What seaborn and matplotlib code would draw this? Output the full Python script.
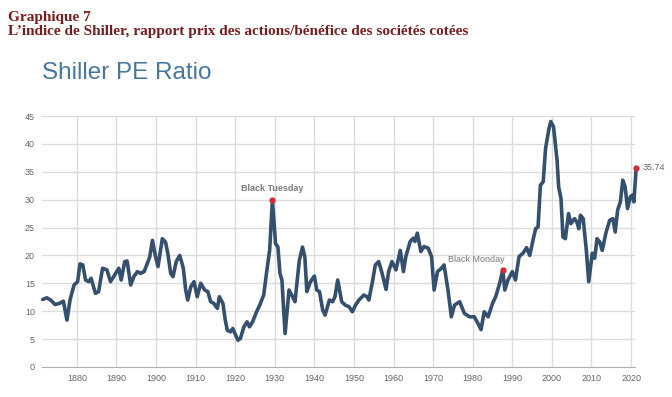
import pandas as pd
import matplotlib
matplotlib.use('Agg')
import matplotlib.pyplot as plt
import seaborn as sns

# values (year, Shiller PE)
years = [
    1871.4, 1872.4, 1873.4, 1874.5, 1875.6, 1876.6, 1877.5, 1878.3, 1879.3, 1880.2,
    1880.8, 1881.5, 1882.2, 1883.0, 1883.6, 1884.7, 1885.5, 1886.5, 1887.6, 1888.5,
    1889.3, 1890.6, 1891.2, 1892.1, 1892.7, 1893.6, 1894.4, 1895.3, 1896.1, 1897.0,
    1897.8, 1898.4, 1899.1, 1899.9, 1900.5, 1901.6, 1902.4, 1903.0, 1903.7, 1904.3,
    1905.1, 1906.0, 1906.9, 1907.5, 1908.0, 1908.8, 1909.6, 1910.4, 1911.3, 1912.3,
    1913.1, 1913.8, 1914.6, 1915.5, 1916.0, 1916.9, 1917.5, 1918.0, 1918.8, 1919.4,
    1920.1, 1920.7, 1921.3, 1922.2, 1923.0, 1923.6, 1924.4, 1925.4, 1926.2, 1927.2,
    1927.9, 1928.7, 1929.4, 1930.2, 1930.8, 1931.3, 1931.8, 1932.6, 1933.6, 1934.5,
    1935.1, 1936.2, 1937.0, 1937.6, 1938.1, 1939.0, 1940.0, 1940.6, 1941.3, 1942.1,
    1942.7, 1943.8, 1944.6, 1945.2, 1945.9, 1946.9, 1947.8, 1948.75, 1949.6, 1950.4,
    1951.25, 1952.5, 1953.3, 1953.75, 1954.6, 1955.4, 1956.25, 1957.1, 1958.1, 1958.75,
    1959.6, 1960.6, 1961.7, 1962.5, 1963.1, 1964.2, 1965.0, 1965.4, 1966.0, 1966.9,
    1967.7, 1968.75, 1969.6, 1970.25, 1971.1, 1972.1, 1972.75, 1973.75, 1974.6, 1975.4,
    1976.7, 1977.9, 1979.2, 1980.4, 1981.1, 1982.1, 1982.9, 1983.9, 1985.0, 1985.8,
    1986.8, 1987.6, 1988.1, 1988.9, 1990.0, 1990.8, 1991.7, 1992.7, 1993.6, 1994.4,
    1995.3, 1995.9, 1996.5, 1997.1, 1997.8, 1998.4, 1999.2, 1999.7, 2000.4, 2001.3,
    2001.7, 2002.3, 2002.8, 2003.4, 2004.2, 2004.8, 2005.7, 2006.3, 2006.8, 2007.2,
    2007.9, 2008.7, 2009.3, 2010.2, 2010.8, 2011.4, 2012.1, 2012.7, 2013.7, 2014.6,
    2015.4, 2016.0, 2016.6, 2017.3, 2017.9, 2018.5, 2019.1, 2019.8, 2020.3, 2020.7,
    2021.3,
]
pe = [
    12.1, 12.4, 12.0, 11.2, 11.4, 11.8, 8.4, 12.1, 14.7, 15.3,
    18.5, 18.3, 15.6, 15.3, 15.9, 13.2, 13.5, 17.7, 17.4, 15.3,
    16.2, 17.7, 15.6, 18.9, 19.0, 14.7, 16.2, 17.1, 16.8, 17.1,
    18.6, 19.7, 22.7, 19.7, 18.0, 23.0, 22.4, 20.3, 16.8, 16.2,
    18.9, 20.0, 17.7, 13.8, 12.0, 14.4, 15.3, 12.6, 15.0, 13.8,
    13.5, 11.7, 11.4, 10.5, 12.6, 11.4, 8.4, 6.6, 6.3, 6.9,
    5.7, 4.8, 5.1, 7.2, 8.1, 7.2, 8.1, 9.9, 11.1, 12.9,
    16.8, 20.9, 29.9, 22.1, 21.5, 16.8, 15.6, 6.0, 13.8, 12.6,
    11.7, 19.1, 21.5, 19.7, 13.5, 15.3, 16.3, 13.8, 13.5, 10.2,
    9.3, 12.0, 11.7, 12.6, 15.6, 11.7, 11.1, 10.8, 9.9, 11.1,
    12.0, 12.9, 12.6, 12.0, 15.0, 18.3, 18.9, 16.8, 13.9, 17.1,
    18.9, 17.4, 20.9, 17.1, 19.8, 22.5, 23.1, 22.5, 24.0, 20.7,
    21.6, 21.3, 19.8, 13.8, 17.1, 17.7, 18.3, 13.8, 9.0, 11.1,
    11.7, 9.6, 9.0, 9.0, 8.1, 6.7, 9.9, 9.0, 11.4, 12.6,
    15.0, 17.4, 13.8, 15.6, 17.1, 15.6, 19.8, 20.4, 21.4, 20.0,
    23.0, 24.8, 25.1, 32.6, 33.2, 39.2, 42.5, 44.0, 43.1, 37.1,
    32.3, 30.2, 23.3, 23.0, 27.5, 25.7, 26.6, 26.0, 24.8, 27.2,
    26.6, 20.9, 15.3, 20.4, 19.5, 23.0, 22.4, 20.9, 24.2, 26.3,
    26.6, 24.2, 28.1, 29.6, 33.5, 32.3, 28.4, 30.5, 30.8, 29.6,
    35.74,
]

# annotated points
events = ['Black Tuesday', 'Black Monday', '35.74']
event_years = [1929.4, 1987.6, 2021.3]
event_pe = [29.9, 17.4, 35.74]

x_ticks = [1880, 1890, 1900, 1910, 1920, 1930, 1940, 1950, 1960, 1970, 1980, 1990, 2000, 2010, 2020]
y_ticks = [0, 5, 10, 15, 20, 25, 30, 35, 40, 45]

df = pd.DataFrame({'Year': years, 'PE': pe})

sns.set_style('white')
plt.rcParams['font.family'] = ['Liberation Sans', 'DejaVu Sans']

fig = plt.figure(figsize=(6.72, 3.97), dpi=100)
ax = fig.add_axes([0.0625, 0.0756, 0.8825, 0.6322])

sns.lineplot(data=df, x='Year', y='PE', ax=ax, color='#34506e', linewidth=2.6)
for line in ax.lines:
    line.set_clip_on(False)
ax.scatter(event_years, event_pe, color='#d42a35', s=12, zorder=5, clip_on=False)

# annotations
ax.text(event_years[0], event_pe[0] + 1.3, events[0], ha='center', va='bottom',
        fontsize=6.5, color='#7a7a7a', fontweight='bold')
ax.text(event_years[1] + 0.5, event_pe[1] + 1.1, events[1], ha='right', va='bottom',
        fontsize=6.5, color='#7a7a7a')
ax.text(event_years[2] + 1.5, event_pe[2], events[2], ha='left', va='center',
        fontsize=6.5, color='#666666', clip_on=False)

ax.set_xlim(1871.2, 2021.0)
ax.set_ylim(0, 45)
ax.set_xticks(x_ticks)
ax.set_yticks(y_ticks)
ax.grid(True, color='#dcdcdc', linewidth=1)
ax.tick_params(length=0, labelsize=6.5, labelcolor='#666666', pad=5)
ax.set_xlabel('')
ax.set_ylabel('')
for side in ['top', 'right', 'left']:
    ax.spines[side].set_visible(False)
ax.spines['bottom'].set_color('#b0b0b0')

# chart title and document header
fig.text(42 / 672, 1 - 73 / 397, 'Shiller PE Ratio', fontsize=17.5, color='#4677a0',
         va='center', ha='left')
fig.text(8 / 672, 1 - 17 / 397, 'Graphique 7', fontsize=11, color='#7b1c1c',
         fontweight='bold', family=['Liberation Serif'], va='center', ha='left')
fig.text(8 / 672, 1 - 32 / 397,
         "L\u2019indice de Shiller, rapport prix des actions/bénéfice des sociétés cotées",
         fontsize=11, color='#7b1c1c', fontweight='bold', family=['Liberation Serif'],
         va='center', ha='left')

fig.savefig('out.png', dpi=100)
plt.close()
